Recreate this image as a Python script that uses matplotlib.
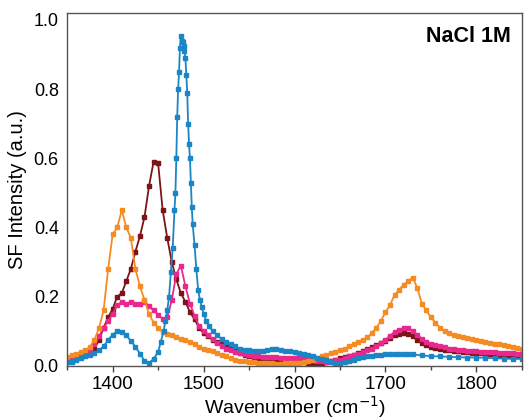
import numpy as np
import matplotlib
matplotlib.use("Agg")
import matplotlib.pyplot as plt

plt.rcParams['font.family'] = ['Liberation Sans', 'DejaVu Sans']

# Common wavenumber grid (cm^-1) for orange / pink / maroon
wn = list(range(1350, 1851, 5))

orange = [0.025, 0.03, 0.035, 0.04, 0.045, 0.055, 0.075, 0.11, 0.16, 0.28,
          0.38, 0.40, 0.45, 0.40, 0.37, 0.28, 0.23, 0.19, 0.15, 0.125,
          0.11, 0.098, 0.092, 0.088, 0.083, 0.078, 0.074, 0.068, 0.062, 0.055,
          0.05, 0.047, 0.044, 0.038, 0.032, 0.027, 0.022, 0.018, 0.015, 0.013,
          0.012, 0.01, 0.009, 0.008, 0.007, 0.007, 0.006, 0.006, 0.007, 0.007,
          0.008, 0.009, 0.011, 0.014, 0.017, 0.022, 0.027, 0.032, 0.037, 0.041,
          0.045, 0.05, 0.056, 0.062, 0.068, 0.076, 0.082, 0.095, 0.11, 0.13,
          0.155, 0.175, 0.205, 0.22, 0.235, 0.245, 0.255, 0.225, 0.18, 0.16,
          0.14, 0.125, 0.11, 0.102, 0.095, 0.09, 0.085, 0.082, 0.08, 0.077,
          0.074, 0.072, 0.07, 0.066, 0.064, 0.062, 0.06, 0.058, 0.055, 0.052,
          0.05]

pink = [0.02, 0.022, 0.025, 0.03, 0.035, 0.045, 0.063, 0.085, 0.11, 0.13,
        0.15, 0.175, 0.185, 0.18, 0.185, 0.18, 0.18, 0.185, 0.172, 0.16,
        0.148, 0.135, 0.14, 0.19, 0.265, 0.29, 0.23, 0.18, 0.145, 0.115,
        0.1, 0.088, 0.078, 0.066, 0.058, 0.05, 0.045, 0.04, 0.036, 0.033,
        0.03, 0.028, 0.027, 0.026, 0.025, 0.025, 0.025, 0.024, 0.023, 0.022,
        0.022, 0.022, 0.021, 0.02, 0.018, 0.015, 0.013, 0.012, 0.014, 0.016,
        0.018, 0.022, 0.027, 0.03, 0.033, 0.04, 0.045, 0.05, 0.057, 0.066,
        0.075, 0.087, 0.098, 0.105, 0.108, 0.11, 0.1, 0.09, 0.078, 0.07,
        0.064, 0.06, 0.057, 0.053, 0.05, 0.048, 0.047, 0.046, 0.044, 0.043,
        0.042, 0.041, 0.04, 0.04, 0.039, 0.038, 0.037, 0.037, 0.036, 0.035,
        0.035]

maroon = [0.012, 0.015, 0.02, 0.025, 0.03, 0.038, 0.05, 0.075, 0.11, 0.14,
          0.165, 0.2, 0.21, 0.245, 0.28, 0.33, 0.375, 0.43, 0.52, 0.59,
          0.585, 0.45, 0.37, 0.3, 0.25, 0.21, 0.185, 0.155, 0.135, 0.11,
          0.095, 0.085, 0.075, 0.068, 0.066, 0.062, 0.055, 0.045, 0.037, 0.032,
          0.027, 0.022, 0.019, 0.017, 0.016, 0.016, 0.015, 0.015, 0.014, 0.013,
          0.013, 0.012, 0.01, 0.009, 0.006, 0.004, 0.006, 0.01, 0.014, 0.018,
          0.022, 0.025, 0.028, 0.032, 0.036, 0.042, 0.048, 0.054, 0.06, 0.066,
          0.072, 0.08, 0.088, 0.093, 0.095, 0.093, 0.085, 0.075, 0.066, 0.06,
          0.055, 0.052, 0.049, 0.047, 0.045, 0.043, 0.042, 0.04, 0.04, 0.038,
          0.037, 0.036, 0.035, 0.034, 0.033, 0.032, 0.032, 0.031, 0.03, 0.03,
          0.029]

# Blue series has its own, finer grid around the sharp peak
wn_blue = [1350, 1355, 1360, 1365, 1370, 1375, 1380, 1385, 1390, 1395,
           1400, 1405, 1410, 1415, 1420, 1425, 1430, 1435, 1440, 1445,
           1450, 1453, 1456, 1458, 1460, 1462, 1464, 1466, 1468, 1469,
           1470, 1471, 1472, 1473, 1474, 1475, 1476, 1477, 1478, 1479,
           1480, 1481, 1482, 1483, 1484, 1485, 1486, 1487, 1488, 1490,
           1492, 1494, 1496, 1498, 1500, 1503, 1506, 1510, 1515, 1520,
           1525, 1530, 1535, 1540, 1545, 1550, 1555, 1560, 1565, 1570,
           1575, 1580, 1585, 1590, 1595, 1600, 1605, 1610, 1615, 1620,
           1625, 1630, 1635, 1640, 1645, 1650, 1655, 1660, 1665, 1670,
           1675, 1680, 1685, 1690, 1695, 1700, 1705, 1710, 1715, 1720,
           1725, 1730, 1740, 1750, 1760, 1770, 1780, 1790, 1800, 1810,
           1820, 1830, 1840, 1850]
blue = [0.01, 0.012, 0.018, 0.022, 0.027, 0.032, 0.037, 0.045, 0.056, 0.075,
        0.09, 0.1, 0.098, 0.088, 0.072, 0.055, 0.035, 0.015, 0.008, 0.02,
        0.04, 0.07, 0.10, 0.13, 0.16, 0.2, 0.27, 0.34, 0.45, 0.5,
        0.6, 0.72, 0.8, 0.85, 0.92, 0.955, 0.94, 0.935, 0.925, 0.91,
        0.89, 0.84, 0.79, 0.7, 0.64, 0.6, 0.53, 0.46, 0.41, 0.35,
        0.28, 0.22, 0.19, 0.17, 0.15, 0.13, 0.115, 0.1, 0.088, 0.077,
        0.068, 0.062, 0.056, 0.05, 0.047, 0.045, 0.043, 0.042, 0.042, 0.045,
        0.05, 0.05, 0.047, 0.044, 0.042, 0.04, 0.038, 0.035, 0.032, 0.028,
        0.024, 0.02, 0.016, 0.012, 0.009, 0.007, 0.01, 0.015, 0.018, 0.022,
        0.025, 0.027, 0.029, 0.031, 0.032, 0.033, 0.034, 0.034, 0.035, 0.035,
        0.034, 0.033, 0.03, 0.028, 0.027, 0.026, 0.025, 0.024, 0.024, 0.023,
        0.022, 0.021, 0.02, 0.02]

c_maroon = '#7d1418'
c_pink = '#e8288c'
c_orange = '#f58c23'
c_blue = '#1b86c6'

fig = plt.figure(figsize=(5.25, 4.2), dpi=100)
ax = fig.add_axes([0.128, 0.129, 0.866, 0.840])

kw = dict(marker='s', markersize=2.6, linewidth=1.3)
ax.plot(wn, maroon, color=c_maroon, **kw)
ax.plot(wn, pink, color=c_pink, **kw)
ax.plot(wn, orange, color=c_orange, **kw)
ax.plot(wn_blue, blue, color=c_blue, **kw)

ax.set_xlim(1350, 1850)
ax.set_ylim(0, 1.02)
ax.set_xticks([1400, 1500, 1600, 1700, 1800])
ax.set_xticks([1350, 1450, 1550, 1650, 1750, 1850], minor=True)
ax.set_yticks([0.0, 0.2, 0.4, 0.6, 0.8, 1.0])
ax.set_yticklabels(['0.0', '0.2', '0.4', '0.6', '0.8', '1.0'])
ax.tick_params(axis='x', which='major', direction='out', length=4, width=1,
               color='#444444', labelsize=13.5, pad=3)
ax.tick_params(axis='x', which='minor', direction='out', length=3, width=1,
               color='#444444')
ax.tick_params(axis='y', which='both', length=0, labelsize=13, pad=6)
for s in ax.spines.values():
    s.set_color('#555555')
    s.set_linewidth(1.0)

ax.set_xlabel('Wavenumber (cm$^{-1}$)', fontsize=14, labelpad=1)
ax.set_ylabel('SF Intensity (a.u.)', fontsize=14.5, labelpad=5)
ax.text(0.975, 0.962, 'NaCl 1M', transform=ax.transAxes, ha='right', va='top',
        fontsize=15.5, fontweight='bold')

fig.savefig('out.png', dpi=100)
